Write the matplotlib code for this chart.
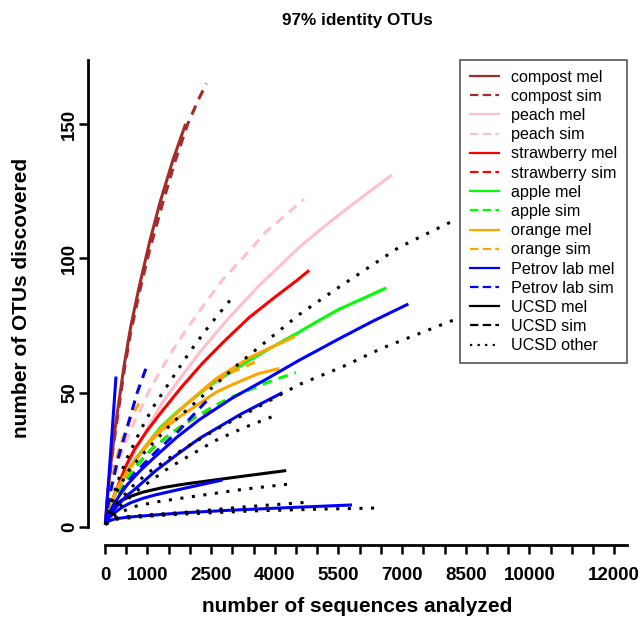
import matplotlib
matplotlib.use("Agg")
import matplotlib.pyplot as plt
from matplotlib.lines import Line2D

plt.rcParams['font.family'] = ['Liberation Sans', 'DejaVu Sans']

# ---------------- data ----------------
title = "97% identity OTUs"
xlabel = "number of sequences analyzed"
ylabel = "number of OTUs discovered"

x_ticks = [0, 500, 1000, 1500, 2000, 2500, 3000, 3500, 4000, 4500, 5000, 5500, 6000,
           6500, 7000, 7500, 8000, 8500, 9000, 9500, 10000, 10500, 11000, 11500, 12000]
x_tick_labels = ["0", "", "1000", "", "", "2500", "", "", "4000", "", "", "5500", "",
                 "", "7000", "", "", "8500", "", "", "10000", "", "", "", "12000"]
y_ticks = [0, 50, 100, 150]
y_tick_labels = ["0", "50", "100", "150"]

legend_labels = ["compost mel", "compost sim", "peach mel", "peach sim",
                 "strawberry mel", "strawberry sim", "apple mel", "apple sim",
                 "orange mel", "orange sim", "Petrov lab mel", "Petrov lab sim",
                 "UCSD mel", "UCSD sim", "UCSD other"]

compost_mel_x = [10, 50, 100, 170, 250, 350, 450, 600, 800, 1050, 1300, 1600, 1900]
compost_mel_y = [1, 10, 18, 28, 38, 49, 60, 74, 89, 106, 121, 136.5, 150]
compost_sim_x = [10, 50, 100, 170, 250, 350, 450, 600, 820, 1050, 1350, 1650, 1950, 2200, 2390]
compost_sim_y = [1, 9, 17, 27, 36, 47, 58, 72, 88, 103, 120, 136, 150, 159, 165]

peach_mel_x = [10, 150, 300, 500, 770, 1000, 1340, 1800, 2230, 2900, 3640, 4570, 5100, 5580,
               6200, 6760]
peach_mel_y = [1, 9, 15, 22, 30, 36.5, 46, 56, 65, 77.5, 90, 104, 111, 117, 124.5, 131]
peach_sim_x = [10, 100, 200, 350, 500, 650, 820, 1050, 1340, 1600, 1900, 2300, 2770, 3300,
               3800, 4250, 4690]
peach_sim_y = [1, 11, 19, 26, 32, 38, 43, 51, 59, 66, 73, 82, 92, 101, 110, 116, 122]

strawberry_mel_x = [10, 150, 300, 500, 700, 1000, 1340, 1800, 2300, 2800, 3400, 4000, 4500, 4810]
strawberry_mel_y = [1, 9, 15, 23, 29, 36, 43, 52, 61, 69, 78, 85.5, 91.5, 95.5]
strawberry_sim_x = [10, 150, 300, 500, 700, 1100, 1570, 2040, 2500]
strawberry_sim_y = [1, 7, 12, 17.5, 22, 29, 35, 40, 44]

apple_mel_x = [10, 100, 200, 350, 540, 750, 1000, 1300, 1710, 2100, 2500, 3000, 3400, 4000,
               4570, 5000, 5510, 6000, 6630]
apple_mel_y = [1, 7, 11, 16, 21, 26, 31, 37, 43, 48, 53, 58, 62, 67.5, 72.5, 76.5, 81, 84.5, 89]
apple_sim_x = [10, 150, 300, 500, 700, 1100, 1570, 2040, 2460, 2930, 3400, 3940, 4500]
apple_sim_y = [1, 7, 12, 17.5, 22, 29, 35, 40, 44, 48, 51, 54.5, 57.5]

orange_mel1_x = [10, 250, 500, 770, 1050, 1340, 1800, 2230, 2600, 3000, 3400, 3800, 4150, 4480]
orange_mel1_y = [1, 13, 20, 26, 32, 37, 44, 50, 55, 59, 63, 66, 68.5, 71]
orange_mel2_x = [10, 250, 500, 770, 1050, 1340, 1800, 2230, 2600, 3000, 3300, 3600, 3850, 4110]
orange_mel2_y = [1, 13, 20, 26, 31.5, 36, 41.5, 46, 50, 53, 55, 57, 58, 59]
orange_sim1_x = [10, 100, 190, 350, 590, 800]
orange_sim1_y = [1, 11, 20, 30, 40, 46]
orange_sim2_x = [10, 250, 500, 770, 1340, 1800, 2230, 2900, 3560]
orange_sim2_y = [1, 13, 20, 26, 37, 44, 50, 57, 61.5]

petrov_mel1_x = [10, 80, 170, 260]
petrov_mel1_y = [1, 16, 36, 56]
petrov_mel2_x = [10, 100, 200, 350, 540, 800, 1170, 1700, 2230, 3000, 3800, 4570, 5510, 6300, 7150]
petrov_mel2_y = [1, 5, 8, 12, 16, 20.5, 26, 33.5, 40, 48, 55, 62, 70, 76.5, 83]
petrov_mel3_x = [10, 100, 300, 500, 700, 1200, 1700, 2230, 3200, 4180]
petrov_mel3_y = [1, 4.5, 8, 11.5, 14, 21, 27, 33, 42, 50]
petrov_mel4_x = [10, 100, 235, 500, 800, 1760, 2900, 4300, 5820]
petrov_mel4_y = [1, 2.3, 3, 3.6, 4, 5.2, 6.2, 7.2, 8.2]
petrov_mel5_x = [10, 100, 200, 400, 600, 900, 1200, 1760, 2770]
petrov_mel5_y = [1, 3.5, 5, 7.3, 9, 10.7, 12, 14, 17.5]
petrov_sim1_x = [10, 100, 300, 540, 760, 1010]
petrov_sim1_y = [1, 11, 25, 38, 50, 61]
petrov_sim2_x = [10, 150, 300, 500, 700, 1200, 1750, 2100, 2460]
petrov_sim2_y = [1, 6.5, 11, 16, 20, 28, 36, 42, 48]

ucsd_mel_x = [10, 80, 150, 250, 400, 600, 900, 1340, 1800, 2350, 3300, 4270]
ucsd_mel_y = [1, 4.5, 6.5, 8.3, 10, 11.4, 13, 14.6, 15.8, 17, 19, 21]
ucsd_sim_x = [10, 100, 250, 450]
ucsd_sim_y = [1, 5, 8, 10]

ucsd_other1_x = [10, 150, 300, 600, 1000, 1600, 2390, 3170, 4570, 5440, 6920, 8210]
ucsd_other1_y = [1, 9, 14, 22, 29, 39, 50, 61, 79, 88.5, 104, 114]
ucsd_other2_x = [10, 150, 300, 600, 1000, 1500, 2000, 2700, 3470, 4570, 5580, 6520, 8210]
ucsd_other2_y = [1, 6, 9, 14.5, 20, 25.5, 30.5, 37, 43.5, 53, 59.5, 66.5, 77]
ucsd_other3_x = [10, 100, 200, 350, 500, 870, 1130, 1570, 1990, 2460, 2980]
ucsd_other3_y = [1, 7, 12, 19, 25, 37, 44.5, 55, 65, 75, 85]
ucsd_other4_x = [10, 150, 300, 800, 1500, 2580, 3280, 4030]
ucsd_other4_y = [1, 4.5, 7, 14, 22, 32, 37, 41.6]
ucsd_other5_x = [10, 200, 630, 1200, 1920, 3240, 4340]
ucsd_other5_y = [1, 4, 7.4, 9.3, 11, 14, 16]
ucsd_other6_x = [10, 300, 1000, 1830, 3500, 5200, 6520]
ucsd_other6_y = [1, 3, 4, 4.8, 6, 6.7, 7.1]
ucsd_other7_x = [10, 300, 1000, 1760, 3300, 4840]
ucsd_other7_y = [1, 3.5, 4.5, 5.3, 7.5, 9.3]

# ---------------- styles ----------------
BROWN, PINK, RED, GREEN, ORANGE, BLUE, BLACK = ("#A52A2A", "#FFC0CB", "#FF0000",
                                                "#00FF00", "#FFA500", "#0000FF", "#000000")
LW = 2.2
SOLID = "-"
DASH = (0, (3.2, 2.3))
DOT = (0, (1.0, 2.8))

series = [
    (compost_mel_x, compost_mel_y, BROWN, SOLID),
    (compost_sim_x, compost_sim_y, BROWN, DASH),
    (peach_mel_x, peach_mel_y, PINK, SOLID),
    (peach_sim_x, peach_sim_y, PINK, DASH),
    (strawberry_mel_x, strawberry_mel_y, RED, SOLID),
    (strawberry_sim_x, strawberry_sim_y, RED, DASH),
    (apple_mel_x, apple_mel_y, GREEN, SOLID),
    (apple_sim_x, apple_sim_y, GREEN, DASH),
    (orange_mel1_x, orange_mel1_y, ORANGE, SOLID),
    (orange_mel2_x, orange_mel2_y, ORANGE, SOLID),
    (orange_sim1_x, orange_sim1_y, ORANGE, DASH),
    (orange_sim2_x, orange_sim2_y, ORANGE, DASH),
    (ucsd_mel_x, ucsd_mel_y, BLACK, SOLID),
    (ucsd_sim_x, ucsd_sim_y, BLACK, DASH),
    (petrov_mel1_x, petrov_mel1_y, BLUE, SOLID),
    (petrov_mel2_x, petrov_mel2_y, BLUE, SOLID),
    (petrov_mel3_x, petrov_mel3_y, BLUE, SOLID),
    (petrov_mel4_x, petrov_mel4_y, BLUE, SOLID),
    (petrov_mel5_x, petrov_mel5_y, BLUE, SOLID),
    (petrov_sim1_x, petrov_sim1_y, BLUE, DASH),
    (petrov_sim2_x, petrov_sim2_y, BLUE, DASH),
    (ucsd_other1_x, ucsd_other1_y, BLACK, DOT),
    (ucsd_other2_x, ucsd_other2_y, BLACK, DOT),
    (ucsd_other3_x, ucsd_other3_y, BLACK, DOT),
    (ucsd_other4_x, ucsd_other4_y, BLACK, DOT),
    (ucsd_other5_x, ucsd_other5_y, BLACK, DOT),
    (ucsd_other6_x, ucsd_other6_y, BLACK, DOT),
    (ucsd_other7_x, ucsd_other7_y, BLACK, DOT),
]

legend_styles = [(BROWN, "-"), (BROWN, "--"), (PINK, "-"), (PINK, "--"),
                 (RED, "-"), (RED, "--"), (GREEN, "-"), (GREEN, "--"),
                 (ORANGE, "-"), (ORANGE, "--"), (BLUE, "-"), (BLUE, "--"),
                 (BLACK, "-"), (BLACK, "--"), (BLACK, ":")]

# ---------------- figure ----------------
W, H = 642, 618
fig = plt.figure(figsize=(W / 100, H / 100), dpi=100)
ax = fig.add_axes([88 / W, 73 / H, 539 / W, 485 / H])

for xs, ys, col, ls in series:
    ax.plot(xs, ys, color=col, linestyle=ls, linewidth=LW, solid_capstyle="butt",
            solid_joinstyle="round")

ax.set_xlim(-400, 12300)
ax.set_ylim(-6.7, 173.8)

for s in ["top", "right"]:
    ax.spines[s].set_visible(False)
ax.spines["left"].set_bounds(0, 173.8)
ax.spines["bottom"].set_bounds(0, 12300)
for s in ["left", "bottom"]:
    ax.spines[s].set_linewidth(2.0)

ax.set_xticks(x_ticks)
ax.set_xticklabels(x_tick_labels, fontsize=13.5, fontweight="bold")
ax.set_yticks(y_ticks)
ax.set_yticklabels(y_tick_labels, fontsize=13.5, fontweight="bold", rotation=90, va="center")
ax.tick_params(axis="both", length=6.5, width=1.8)
ax.tick_params(axis="x", pad=9)
ax.tick_params(axis="y", pad=0.5)

fig.text(357 / W, 1 - 20 / H, title, ha="center", va="center", fontsize=12.3, fontweight="bold")
fig.text(357 / W, 1 - 607 / H, xlabel, ha="center", va="center", fontsize=15, fontweight="bold")
fig.text(22 / W, 1 - 298 / H, ylabel, ha="center", va="center", rotation=90,
         fontsize=15, fontweight="bold")

handles = []
for col, ls in legend_styles:
    if ls == "-":
        dashes = "-"
    elif ls == "--":
        dashes = (0, (3.8, 1.9))
    else:
        dashes = (0, (1.0, 2.4))
    handles.append(Line2D([], [], color=col, linestyle=dashes, linewidth=1.6))

leg = fig.legend(handles, legend_labels, loc="upper right",
                 bbox_to_anchor=(627 / W, 1 - 60 / H), bbox_transform=fig.transFigure,
                 fontsize=11.6, labelspacing=0.26, handlelength=1.8, handletextpad=0.75,
                 borderpad=0.6, borderaxespad=0, fancybox=False, framealpha=1)
leg.get_frame().set_edgecolor("#555555")
leg.get_frame().set_linewidth(1.2)

fig.savefig("out.png", dpi=100)
